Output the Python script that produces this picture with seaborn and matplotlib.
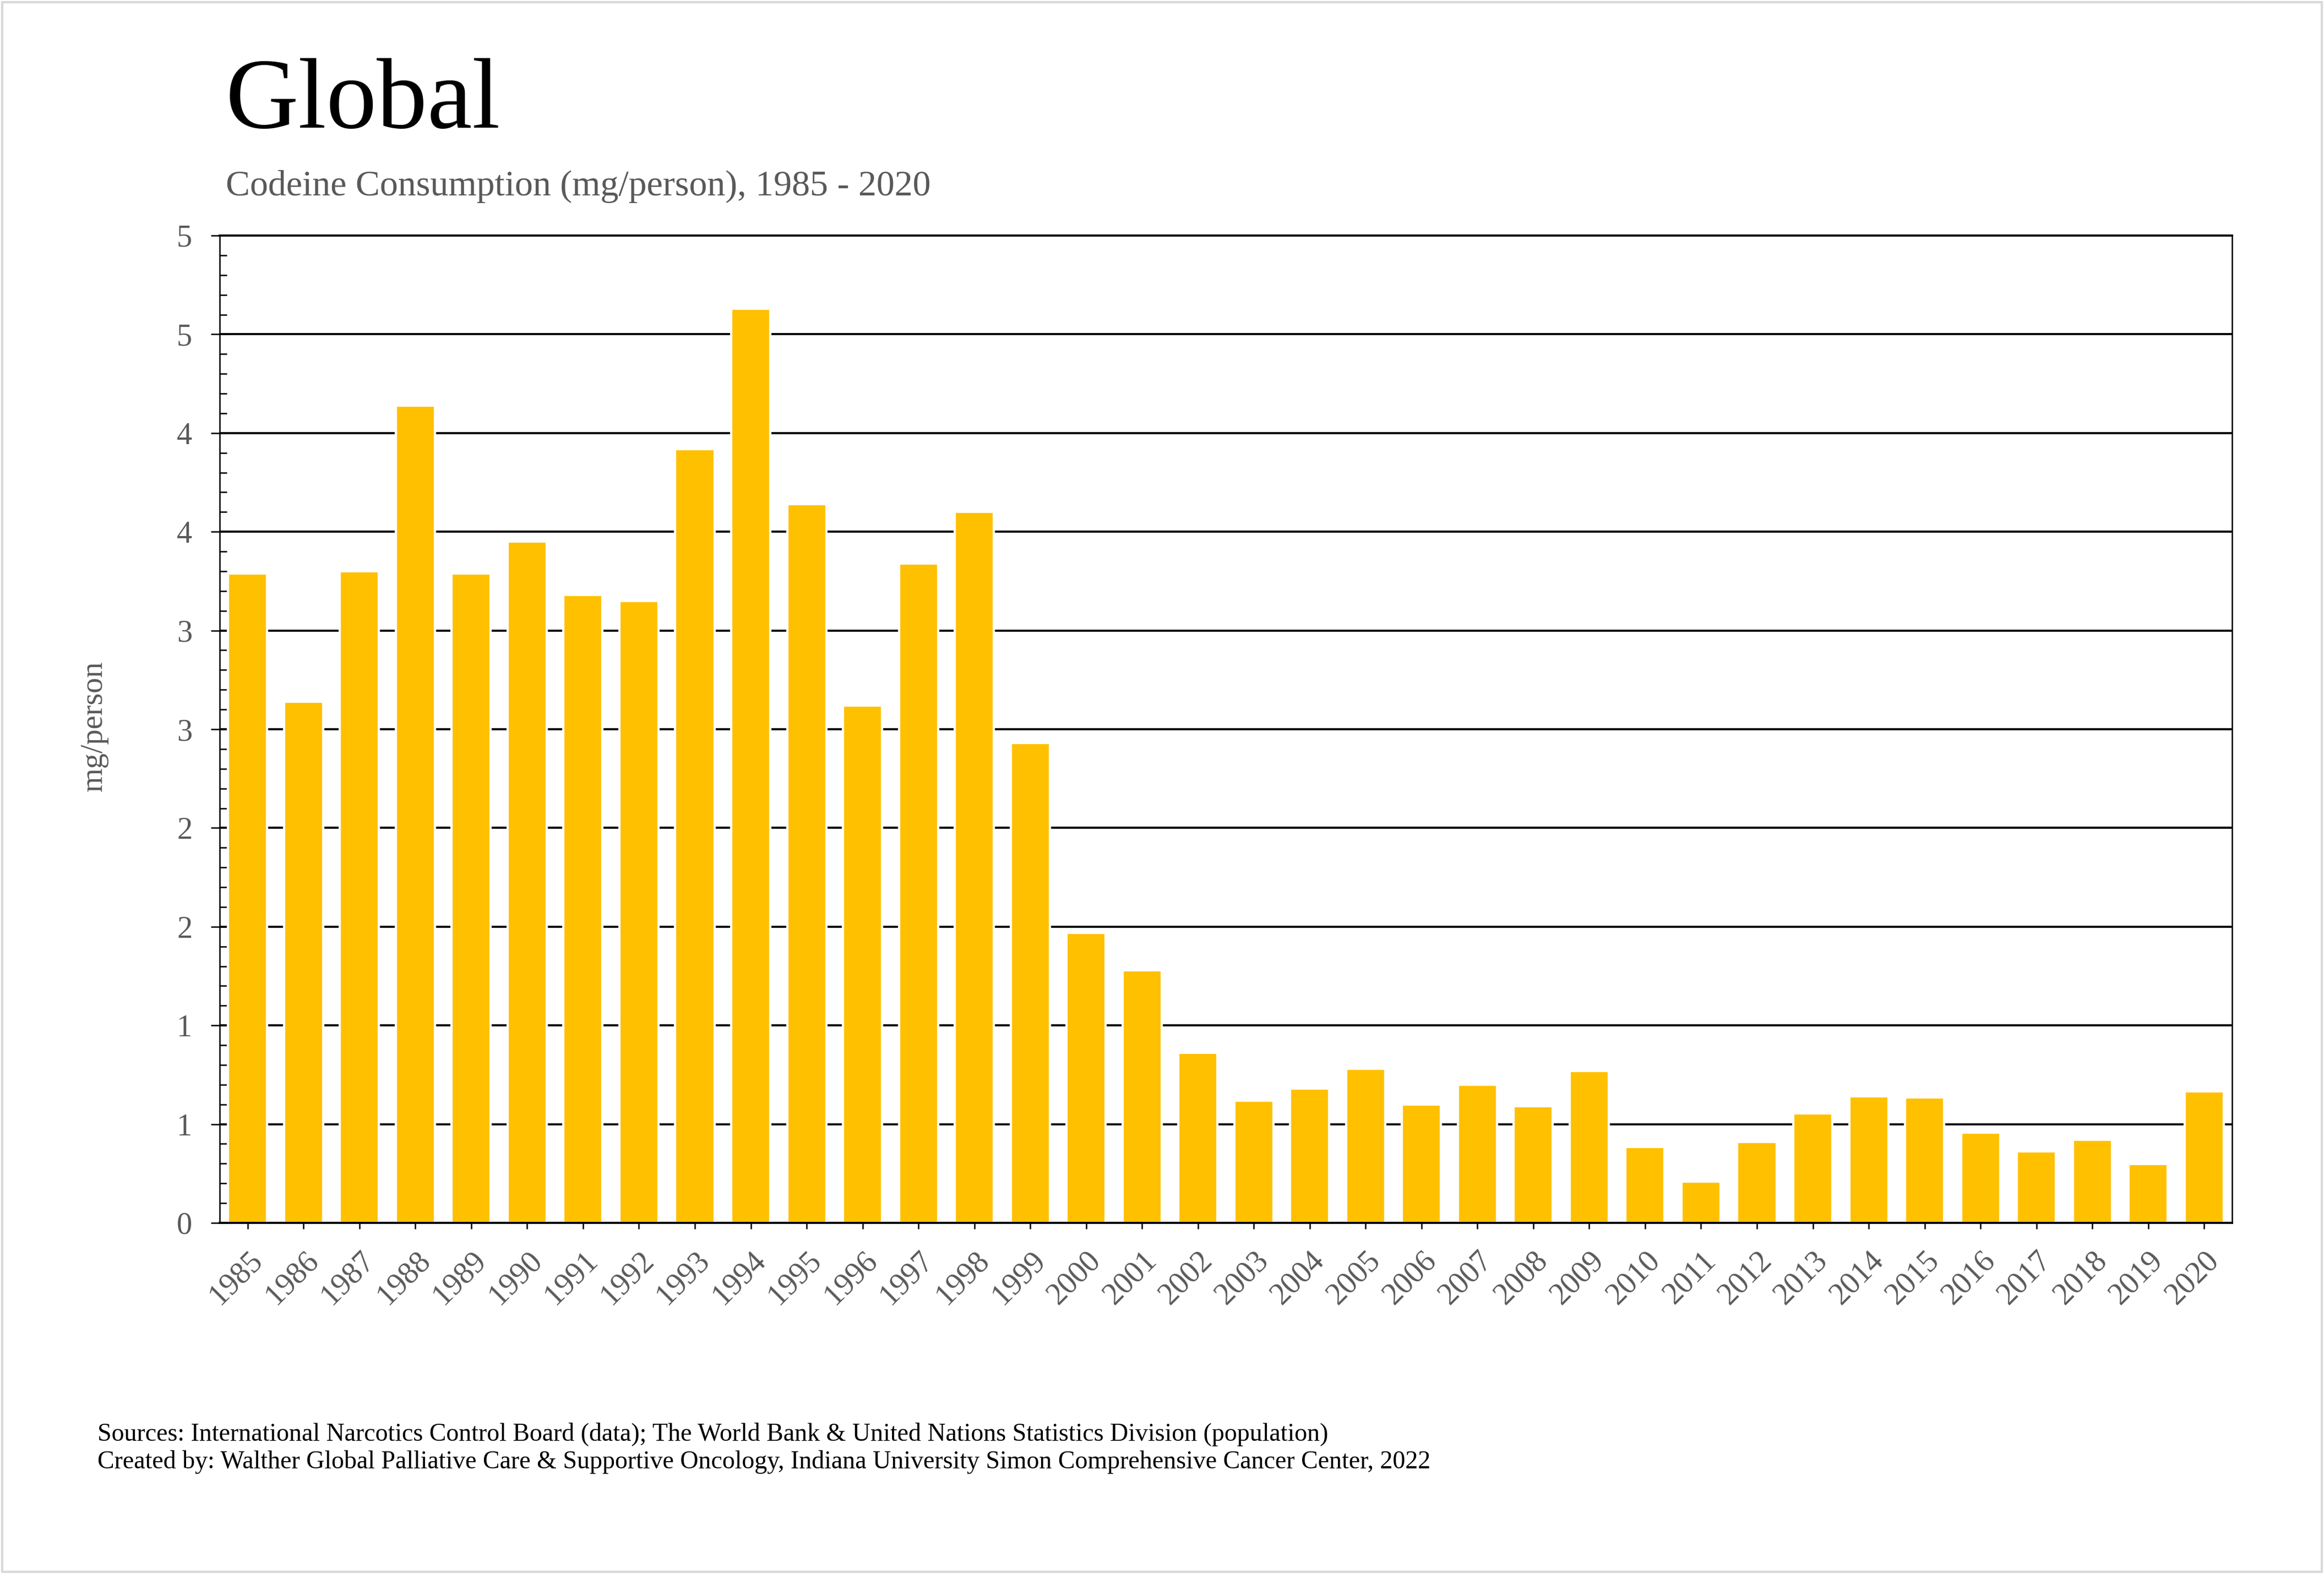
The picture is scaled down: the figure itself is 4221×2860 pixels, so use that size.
import numpy as np
import pandas as pd
import seaborn as sns
import matplotlib.pyplot as plt
from matplotlib.ticker import MultipleLocator
from matplotlib.patches import Rectangle

# ==================== DATA ====================

years = list(range(1985, 2021))
codeine_mg = [
    3.29, 2.64, 3.30, 4.14, 3.29, 3.45, 3.18, 3.15, 3.92, 4.63,
    3.64, 2.62, 3.34, 3.60, 2.43, 1.47, 1.28, 0.86, 0.62, 0.68,
    0.78, 0.60, 0.70, 0.59, 0.77, 0.385, 0.21, 0.41, 0.555, 0.64,
    0.636, 0.458, 0.363, 0.42, 0.298, 0.665,
]
ytick_vals = [0, 0.5, 1.0, 1.5, 2.0, 2.5, 3.0, 3.5, 4.0, 4.5, 5.0]
ytick_labels = ["0", "1", "1", "2", "2", "3", "3", "4", "4", "5", "5"]

title = "Global"
subtitle = "Codeine Consumption (mg/person), 1985 - 2020"
source_1 = ("Sources: International Narcotics Control Board (data); "
            "The World Bank & United Nations Statistics Division (population)")
source_2 = ("Created by: Walther Global Palliative Care & Supportive Oncology, "
            "Indiana University Simon Comprehensive Cancer Center, 2022")

df = pd.DataFrame({"year": [str(y) for y in years], "mg": codeine_mg})

# ==================== STYLE ====================

sns.set_style("white")
plt.rcParams["font.family"] = ["Liberation Serif", "DejaVu Serif"]

GRAY = "#595959"
W, H = 4221, 2860

fig = plt.figure(figsize=(W / 300, H / 300), dpi=300)
ax = fig.add_axes([399 / W, 1 - 2222 / H, (4054 - 399) / W, (2222 - 428) / H])

sns.barplot(data=df, x="year", y="mg", color="#FFC000", saturation=1,
            width=0.7, ax=ax, zorder=2)

ax.set_xlim(-0.5, len(years) - 0.5)
ax.set_ylim(0, 5)
ax.set_yticks(ytick_vals, ytick_labels)
ax.yaxis.set_minor_locator(MultipleLocator(0.1))

ax.set_axisbelow(True)
ax.grid(axis="y", which="major", color="black", lw=0.9)

# ticks
ax.tick_params(axis="y", which="major", left=True, direction="inout",
               length=7.9, width=0.6, color="black", pad=8,
               labelsize=13.5, labelcolor=GRAY)
ax.tick_params(axis="y", which="minor", left=True, direction="in",
               length=3.1, width=0.6, color="black")
ax.tick_params(axis="x", which="major", bottom=True, direction="inout",
               length=5.3, width=0.6, color="black", pad=7.5,
               labelsize=13.5, labelcolor=GRAY)
for lab in ax.get_xticklabels():
    lab.set_rotation(45)
    lab.set_ha("right")
    lab.set_va("top")
    lab.set_rotation_mode("anchor")

# spines
for side, lw in [("left", 0.6), ("bottom", 0.9), ("right", 0.6), ("top", 0.9)]:
    ax.spines[side].set_visible(True)
    ax.spines[side].set_color("black")
    ax.spines[side].set_linewidth(lw)

ax.set_xlabel("")
ax.set_ylabel("mg/person", fontsize=13.5, color=GRAY)
ax.yaxis.set_label_coords((197 - 399) / (4054 - 399), 0.503)

# ==================== TEXT ====================

fig.text(0.0971, 1 - 232 / H, title, fontsize=44, va="baseline", color="black")
fig.text(0.0971, 1 - 355 / H, subtitle, fontsize=15.8, va="baseline", color=GRAY)
fig.text(177 / W, 1 - 2618 / H, source_1, fontsize=11, va="baseline", color="black")
fig.text(177 / W, 1 - 2668 / H, source_2, fontsize=11, va="baseline", color="black")

fig.patches.append(Rectangle((0.001, 0.0015), 0.998, 0.997, transform=fig.transFigure,
                             fill=False, ec="#d9d9d9", lw=1))

fig.savefig("out.png", dpi=300)
plt.close()
